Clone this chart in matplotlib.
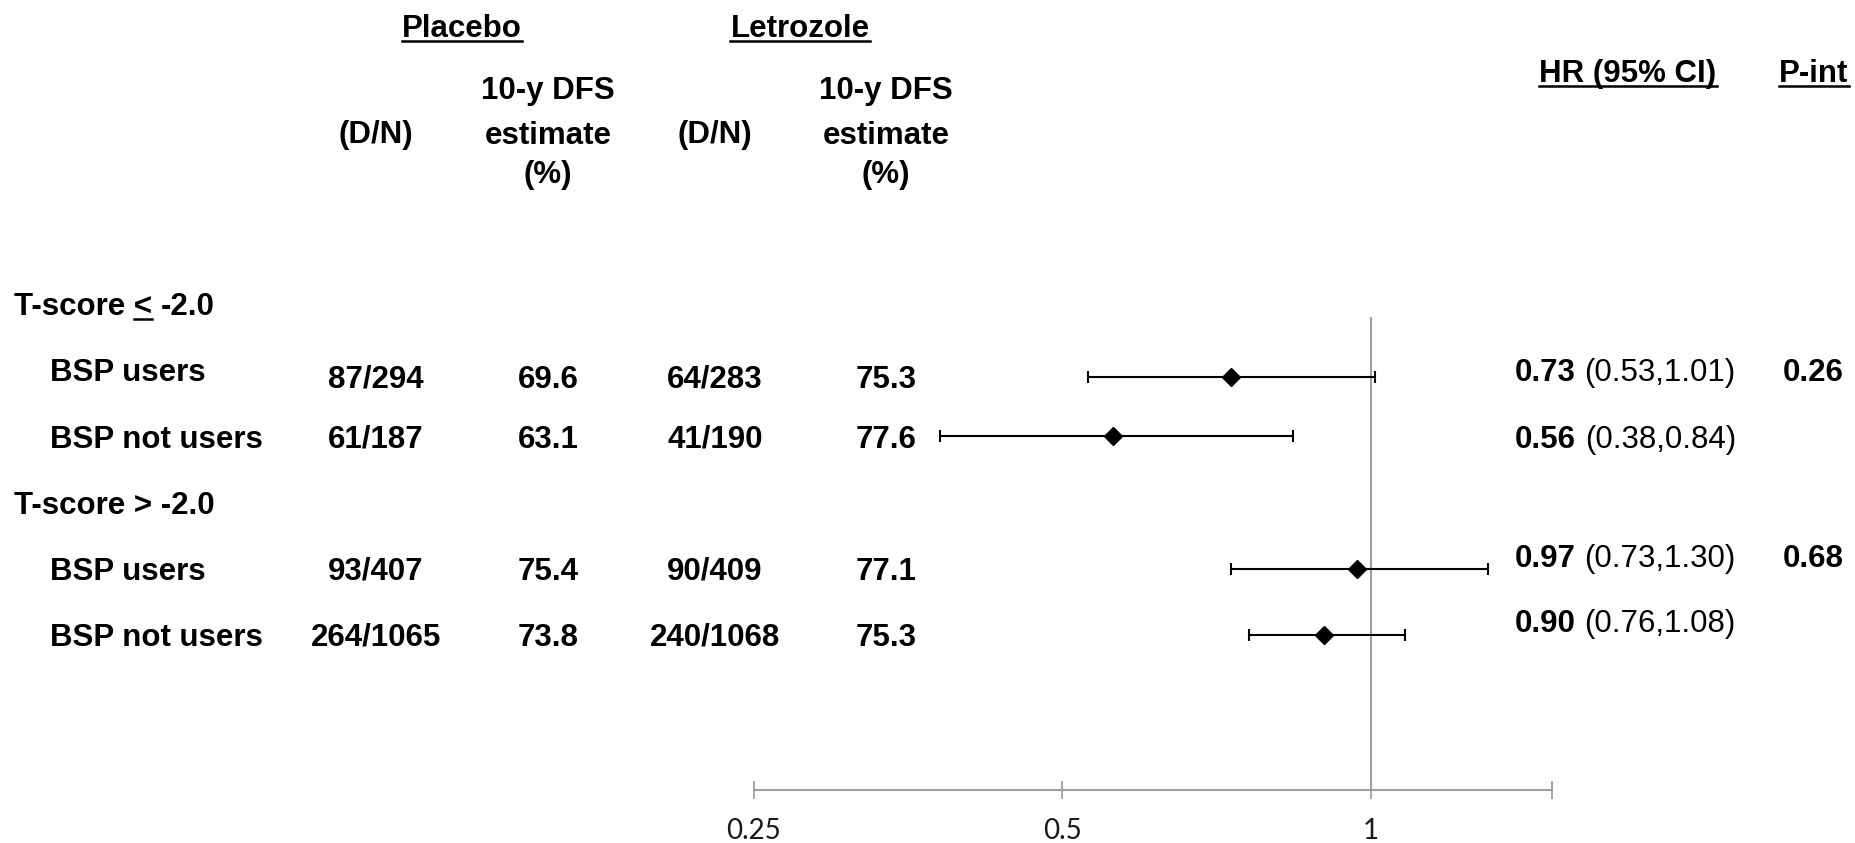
import numpy as np
import matplotlib
matplotlib.use('Agg')
from matplotlib import pyplot as plt
from matplotlib.lines import Line2D

# figure size in pixels
W, H = 1855, 843

subgroups = ['BSP users', 'BSP not users', 'BSP users', 'BSP not users']
placebo_dn = ['87/294', '61/187', '93/407', '264/1065']
placebo_dfs = ['69.6', '63.1', '75.4', '73.8']
letro_dn = ['64/283', '41/190', '90/409', '240/1068']
letro_dfs = ['75.3', '77.6', '77.1', '75.3']
hr = np.array([0.73, 0.56, 0.97, 0.90])
ci_low = np.array([0.53, 0.38, 0.73, 0.76])
ci_high = np.array([1.01, 0.84, 1.30, 1.08])
p_int = ['0.26', '', '0.68', '']
xticks = [0.25, 0.5, 1, 1.5]
xticklabels = ['0.25', '0.5', '1', '']

BOLD = dict(family='Liberation Sans', weight='bold', fontsize=22.5, color='black')
REG = dict(family='Liberation Sans', weight='normal', fontsize=22.5, color='black')

fig = plt.figure(figsize=(W / 100, H / 100), dpi=100)
renderer = fig.canvas.get_renderer()
DY = 3  # small downward nudge for all text


def fx(px):
    return px / W


def fy(py):
    return 1 - (py + DY) / H


def put(x, y, s, ha='left', **kw):
    return fig.text(fx(x), fy(y), s, ha=ha, va='center', **kw)


def underline(t, x0=None, x1=None):
    bb = t.get_window_extent(renderer)
    if x0 is None:
        x0, x1 = bb.x0, bb.x1
    y = bb.y0 + 3
    fig.add_artist(Line2D([x0 / W, x1 / W], [y / H, y / H], color='black',
                          lw=1.8, transform=fig.transFigure))


# ---- forest panel ----
row_px0, row_step = 304, 66.25          # pixel row grid used for the layout
row_y = [1.1, 2.0, 4.0, 5.0]            # vertical slot of each subgroup
ax_top, ax_bot = 317, 790
x_left, x_right = 753.6, 1551.6
ax = fig.add_axes([x_left / W, 1 - ax_bot / H, (x_right - x_left) / W, (ax_bot - ax_top) / H])
ax.set_xscale('log', base=2)
ax.set_xlim(0.25, 1.5)
ax.set_ylim((ax_bot - row_px0) / row_step, (ax_top - row_px0) / row_step)
ax.patch.set_alpha(0)

ax.axvline(1, color='#A0A0A0', lw=1.5, zorder=1)
ax.errorbar(hr, row_y, xerr=[hr - ci_low, ci_high - hr], fmt='D', color='black',
            ms=9, capsize=4, elinewidth=1.5, capthick=1.5, zorder=3)

for s in ['top', 'left', 'right']:
    ax.spines[s].set_visible(False)
ax.spines['bottom'].set_color('#A0A0A0')
ax.spines['bottom'].set_linewidth(1.5)
ax.set_yticks([])
ax.set_xticks(xticks)
ax.set_xticklabels(xticklabels)
ax.xaxis.set_minor_locator(matplotlib.ticker.NullLocator())
ax.tick_params(axis='x', direction='inout', length=13, width=1.3, color='#A0A0A0',
               pad=14, labelsize=20, labelcolor='#1a1a1a')
for lab in ax.get_xticklabels():
    lab.set_family('Lato')

# ---- column headers ----
underline(put(462, 26, 'Placebo', ha='center', **BOLD))
underline(put(800, 26, 'Letrozole', ha='center', **BOLD))
underline(put(1628, 71, 'HR (95% CI)', ha='center', **BOLD))
underline(put(1814, 71, 'P-int', ha='center', **BOLD))
for cx in [376, 715]:
    put(cx, 132.5, '(D/N)', ha='center', **BOLD)
for cx in [548, 886]:
    put(cx, 87.5, '10-y DFS', ha='center', **BOLD)
    put(cx, 132.5, 'estimate', ha='center', **BOLD)
    put(cx, 172, '(%)', ha='center', **BOLD)

# ---- group labels ----
t = put(14, 304, 'T-score <', **BOLD)
bb = t.get_window_extent(renderer)
probe = put(200, 304, '<', **BOLD)
w_lt = probe.get_window_extent(renderer).width
probe.remove()
underline(t, bb.x1 - w_lt, bb.x1)
space = 0.278 * BOLD['fontsize'] * 100 / 72
put(bb.x1 + space, 304, '-2.0', **BOLD)
put(14, 503, 'T-score > -2.0', **BOLD)

# ---- table rows ----
label_y = [370, 436.5, 569, 635]
num_y = [377, 436.5, 569, 635]
hr_y = [370, 436.5, 556, 621]
for i in range(4):
    put(50, label_y[i], subgroups[i], **BOLD)
    put(376, num_y[i], placebo_dn[i], ha='center', **BOLD)
    put(548, num_y[i], placebo_dfs[i], ha='center', **BOLD)
    put(715, num_y[i], letro_dn[i], ha='center', **BOLD)
    put(886, num_y[i], letro_dfs[i], ha='center', **BOLD)
    tb = put(1515, hr_y[i], '%.2f' % hr[i], **BOLD)
    xb = tb.get_window_extent(renderer).x1
    put(xb + 0.278 * REG['fontsize'] * 100 / 72, hr_y[i],
        '(%.2f,%.2f)' % (ci_low[i], ci_high[i]), **REG)
    if p_int[i]:
        put(1783, hr_y[i], p_int[i], **BOLD)

fig.savefig('out.png', dpi=100)
